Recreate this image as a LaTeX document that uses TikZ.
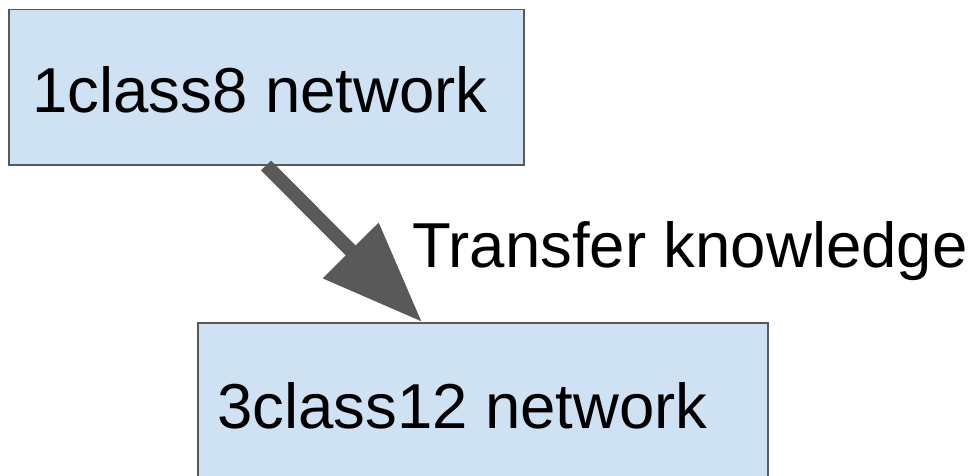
\documentclass[tikz,border=0pt]{standalone}
\usepackage{fontspec}
\setmainfont{Liberation Sans}
\usetikzlibrary{arrows.meta,calc}
\definecolor{boxfill}{HTML}{CFE2F3}
\definecolor{boxdraw}{HTML}{595959}
\definecolor{arrowcol}{HTML}{595959}
\tikzset{
  netbox/.style={draw=boxdraw, fill=boxfill, line width=1.5pt, rectangle, inner sep=0pt, anchor=north west},
  bigtext/.style={font=\fontsize{63.5}{70}\selectfont, inner sep=0pt, anchor=base west, text=black},
  bigarrow/.style={draw=arrowcol, line width=14pt, -{Triangle[length=101pt,width=75pt]}}
}
\begin{document}
\begin{tikzpicture}[x=1pt,y=-1pt]
\useasboundingbox (0,0) rectangle (977,476);
\clip (0,0) rectangle (977,476);
\node[netbox, minimum width=515pt, minimum height=155pt] (b1) at (8,9) {};
\node[netbox, minimum width=570pt, minimum height=175pt] (b2) at (197,322) {};
\node[bigtext] (t1) at (32,113) {1class8 network};
\node[bigtext] (t2) at (217,428) {3class12 network};
\node[bigtext] (lbl) at (412,267) {Transfer knowledge};
\coordinate (s) at ($(b1.south west)+(258,0)$);
\coordinate (e) at ($(b2.north west)+(225,0)$);
\draw[bigarrow] (s) -- (e);
\end{tikzpicture}
\end{document}
